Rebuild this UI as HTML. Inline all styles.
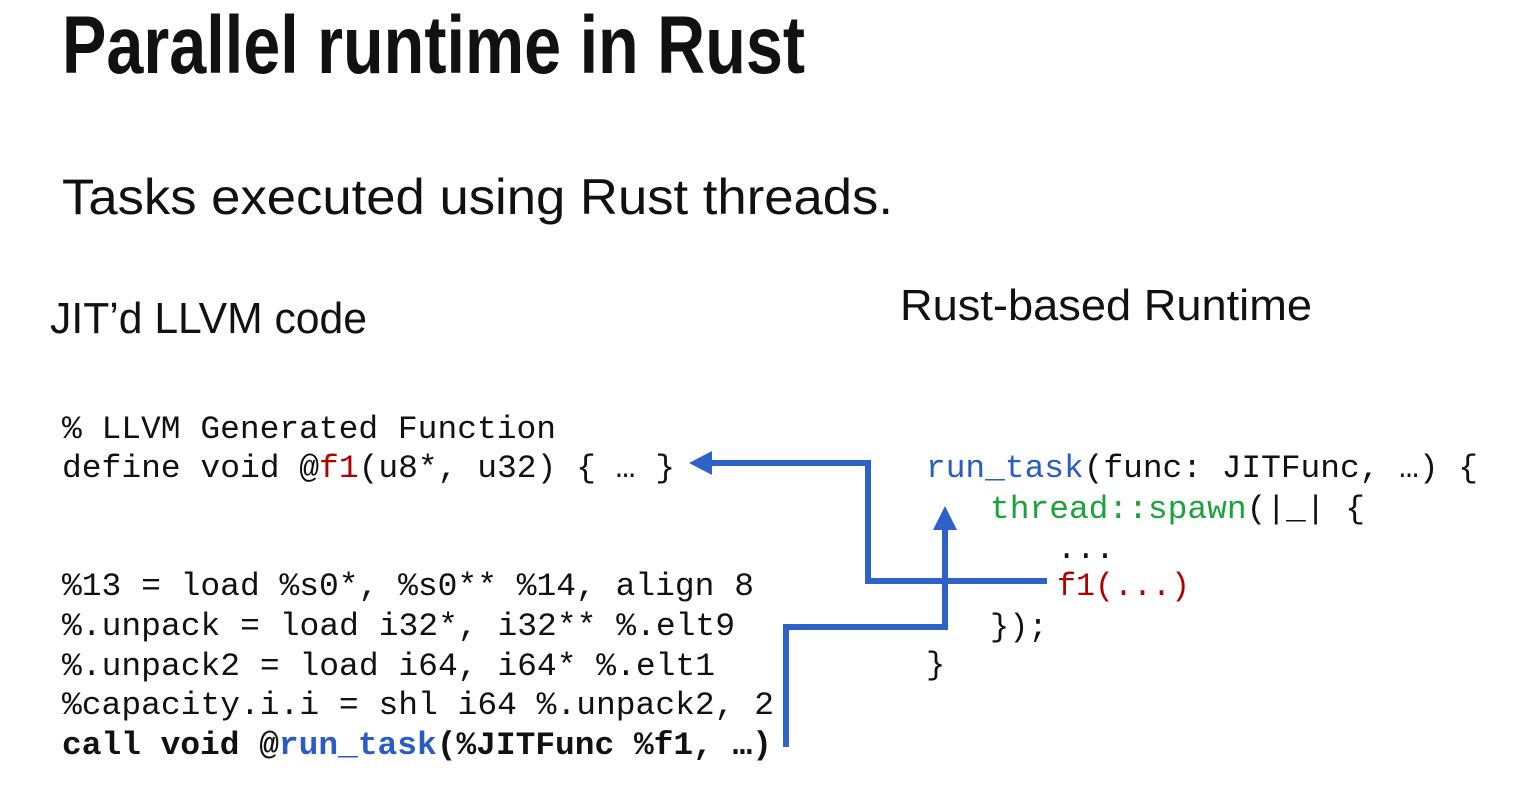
<!DOCTYPE html>
<html><head><meta charset="utf-8"><style>
html,body{margin:0;padding:0;background:#fff;}
svg{display:block}
.m{font-family:"Liberation Mono","DejaVu Sans Mono",monospace;font-size:32px;fill:#111}
.s{font-family:"Liberation Sans","DejaVu Sans",sans-serif;fill:#111}
</style></head><body>
<svg width="1522" height="794" viewBox="0 0 1522 794" xmlns="http://www.w3.org/2000/svg">
<text class="s" x="62" y="73" font-size="82" font-weight="bold" textLength="743" lengthAdjust="spacingAndGlyphs">Parallel runtime in Rust</text>
<text class="s" x="62" y="214" font-size="50" textLength="831" lengthAdjust="spacingAndGlyphs">Tasks executed using Rust threads.</text>
<text class="s" x="50" y="333" font-size="44" textLength="317" lengthAdjust="spacingAndGlyphs">JIT’d LLVM code</text>
<text class="s" x="900" y="320" font-size="44" textLength="412" lengthAdjust="spacingAndGlyphs">Rust-based Runtime</text>

<g class="m">
<text x="62" y="438" textLength="494" lengthAdjust="spacingAndGlyphs">% LLVM Generated Function</text>
<text x="62" y="477" textLength="613" lengthAdjust="spacingAndGlyphs">define void @<tspan fill="#b00000">f1</tspan>(u8*, u32) { … }</text>
<text x="62" y="595" textLength="692" lengthAdjust="spacingAndGlyphs">%13 = load %s0*, %s0** %14, align 8</text>
<text x="62" y="635" textLength="673" lengthAdjust="spacingAndGlyphs">%.unpack = load i32*, i32** %.elt9</text>
<text x="62" y="675" textLength="653" lengthAdjust="spacingAndGlyphs">%.unpack2 = load i64, i64* %.elt1</text>
<text x="62" y="714" textLength="712" lengthAdjust="spacingAndGlyphs">%capacity.i.i = shl i64 %.unpack2, 2</text>
<text x="62" y="754" font-weight="bold" textLength="710" lengthAdjust="spacingAndGlyphs">call void @<tspan fill="#2a5cc4">run_task</tspan>(%JITFunc %f1, …)</text>

<text x="926" y="477" textLength="552" lengthAdjust="spacingAndGlyphs"><tspan fill="#2a5cc4">run_task</tspan>(func: JITFunc, …) {</text>
<text x="990" y="518" fill="#1aa33a" textLength="375" lengthAdjust="spacingAndGlyphs"><tspan fill="#1aa33a">thread::spawn</tspan><tspan fill="#111">(|_| {</tspan></text>
<text x="1057" y="558">...</text>
<text x="1057" y="595" fill="#b00000" textLength="133" lengthAdjust="spacingAndGlyphs">f1(...)</text>
<text x="990" y="636">});</text>
<text x="926" y="674">}</text>
</g>

<g fill="none" stroke="#2f62c9" stroke-width="6">
<polyline points="1047,581 868,581 868,463 710,463"/>
<polyline points="786,747 786,627 945,627 945,528"/>
</g>
<g fill="#2f62c9">
<polygon points="689,463 712,451 712,475"/>
<polygon points="945,506 933,530 957,530"/>
</g>
</svg>
</body></html>
